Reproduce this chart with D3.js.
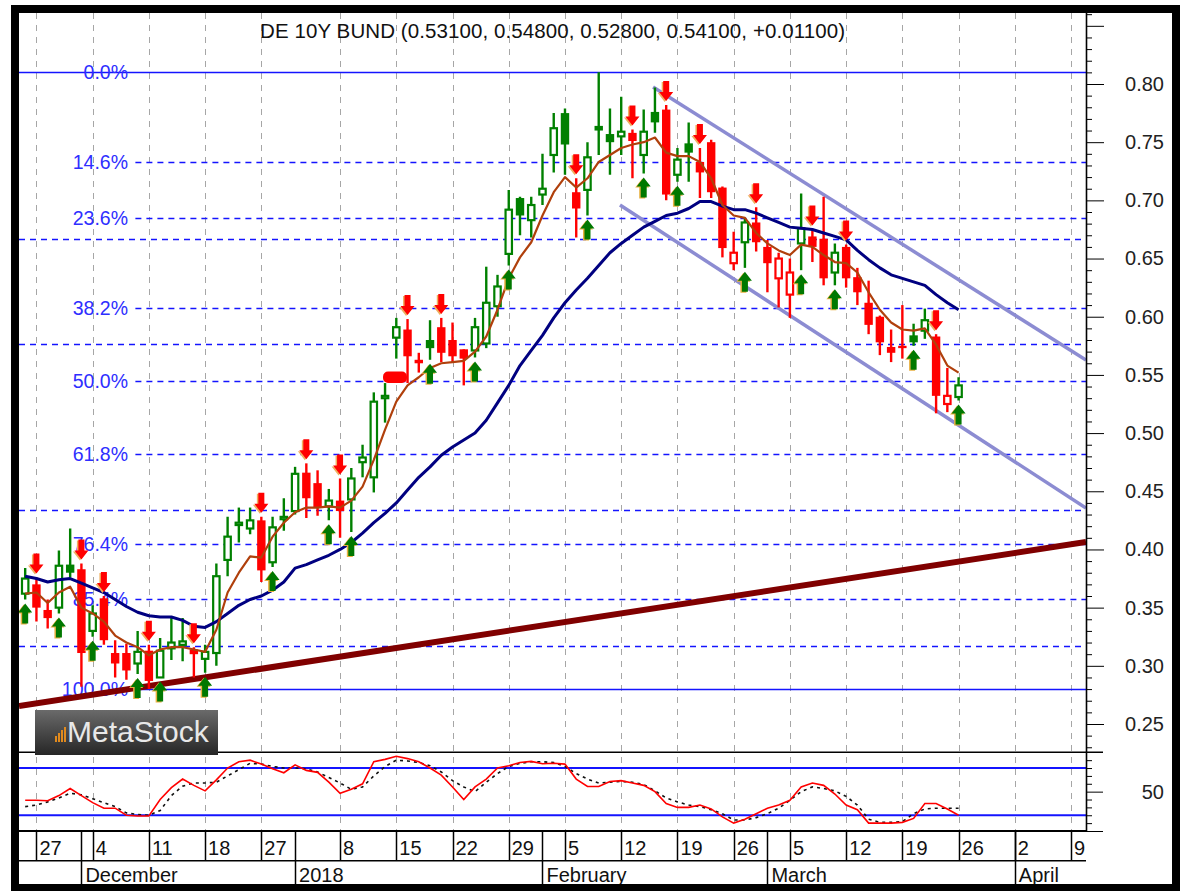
<!DOCTYPE html>
<html><head><meta charset="utf-8">
<script src="https://cdn.jsdelivr.net/npm/d3@7"></script>
<style>
html,body{margin:0;padding:0;background:#fff;}
svg{display:block;font-family:Arial,"Liberation Sans",sans-serif;}
</style></head><body>
<svg id="c" width="1182" height="891"></svg>
<script>
// ---------------- DATA ----------------
const title = "DE 10Y BUND (0.53100, 0.54800, 0.52800, 0.54100, +0.01100)";
const firstDay = "2017-11-24", lastAxisDay = "2018-04-13";
const holidays = ["2017-12-25","2017-12-26","2018-01-01"];

const open  = [.362,.370,.348,.350,.387,.383,.330,.358,.311,.311,.302,.313,.290,.315,.318,.314,.306,.311,.391,.421,.418,.425,.389,.426,.433,.466,.457,.437,.442,.443,.475,.462,.530,.582,.589,.563,.580,.591,.580,.572,.571,.577,.609,.654,.702,.683,.705,.739,.775,.707,.709,.764,.757,.755,.758,.739,.776,.778,.722,.749,.733,.750,.711,.646,.664,.681,.660,.633,.619,.663,.669,.667,.638,.660,.634,.612,.600,.574,.575,.584,.588,.583,.525,.531];
const high  = [.384,.376,.357,.399,.418,.388,.352,.360,.322,.319,.330,.318,.324,.341,.341,.316,.318,.388,.428,.436,.436,.428,.428,.444,.471,.474,.468,.452,.461,.470,.490,.535,.543,.599,.598,.569,.597,.599,.595,.572,.599,.643,.636,.709,.703,.703,.740,.775,.779,.719,.750,.810,.779,.789,.761,.778,.797,.782,.745,.767,.745,.752,.712,.673,.685,.694,.666,.655,.650,.706,.675,.703,.663,.662,.642,.631,.601,.589,.610,.594,.607,.585,.556,.548];
const low   = [.357,.338,.332,.345,.376,.282,.325,.318,.290,.288,.293,.280,.290,.305,.304,.290,.294,.300,.377,.406,.413,.372,.385,.416,.430,.427,.429,.425,.410,.415,.462,.449,.509,.564,.543,.552,.563,.561,.561,.541,.565,.573,.600,.644,.670,.668,.696,.724,.722,.668,.687,.739,.722,.739,.719,.723,.758,.700,.716,.716,.702,.702,.651,.640,.642,.656,.621,.608,.599,.640,.647,.627,.627,.625,.610,.585,.567,.561,.564,.575,.581,.517,.518,.528];
const close = [.375,.350,.341,.386,.380,.311,.345,.322,.302,.296,.312,.287,.313,.320,.321,.310,.312,.377,.411,.423,.425,.382,.419,.428,.465,.444,.436,.442,.433,.461,.479,.527,.532,.591,.566,.560,.573,.569,.566,.564,.591,.612,.626,.692,.687,.696,.710,.762,.748,.693,.737,.760,.750,.759,.751,.759,.767,.705,.735,.741,.724,.707,.659,.655,.681,.664,.646,.650,.638,.676,.660,.633,.655,.633,.621,.593,.578,.569,.573,.578,.597,.532,.532,.541];
// bar colour flags (g = green, r = red)
const barColors = "grrggrgrrrgrgggrgggggrgggrrgrgggggrrgrrrgggggggggrggggrggrggrrrrgrrrrgrrgrrrrrrggrrg";
// signal arrows (bar positions)
const downArrows = [1,5,7,11,15,21,25,28,34,37,49,54,57,60,65,70,73,81];
const upArrows   = [0,3,6,10,12,16,22,27,29,36,40,43,50,55,58,64,69,72,79,83];

const maFast = [.362,.363,.354,.363,.368,.350,.345,.338,.326,.320,.316,.309,.314,.316,.316,.314,.312,.331,.363,.380,.394,.393,.411,.423,.432,.436,.436,.437,.436,.442,.454,.477,.503,.527,.541,.548,.556,.560,.561,.562,.570,.583,.606,.633,.651,.664,.687,.707,.720,.711,.719,.733,.739,.745,.748,.750,.754,.741,.738,.738,.733,.719,.696,.687,.685,.672,.663,.657,.653,.662,.660,.653,.647,.646,.638,.621,.606,.595,.589,.588,.590,.576,.558,.552];
const maSlow = [.377,.375,.372,.374,.375,.371,.367,.363,.357,.351,.346,.343,.342,.342,.339,.334,.333,.338,.345,.352,.357,.360,.365,.372,.384,.387,.391,.395,.400,.406,.414,.423,.431,.440,.451,.462,.471,.481,.488,.494,.500,.511,.526,.541,.558,.571,.584,.599,.612,.623,.633,.644,.655,.663,.670,.677,.682,.687,.689,.693,.699,.699,.695,.692,.692,.689,.685,.681,.677,.676,.675,.672,.669,.666,.657,.649,.642,.636,.633,.630,.627,.619,.612,.606];

const stochK = [39,39,38.5,45,54,45,36,29,29,20,19,19,40,55,66,58,51,65,80,88,90,85,79,74,84,77,74.5,62,48,53,60,88,91,95,92,88,80,71,56,40,56,66,80,83,87,88.5,85.5,86,85,66,56.6,56.6,63,64,61,58,50,35,30,30,33,28,18,10,15,22,29,33,39,56,61,58,47,33,27,10,10,10,11,16,35,35,28,20];
const stochD = [31,33,37,42,48,46,41,36,31,23,21,20,26,45,57,61,61,62,70,78,86,85,82,80,80,79,75,68,61,53,56,70,82,90,89,87,83,75,64,56,50,62,73,82,86,88,88,87,82,73,66,61,62,63,62,59,51,42,37,33,31,27,22,14,14,17,22,29,39,50,56,54,51,44,33,15,11,11,12,22,28,29,29,29];
const stochBands = [80, 20];

// Fibonacci retracement
const fibHigh = 0.81, fibLow = 0.28, fibStart = 9.8;
const fibPct = [0, 14.6, 23.6, 38.2, 50, 61.8, 76.4, 85.4, 100];
const fibLabels = ["0.0%","14.6%","23.6%","38.2%","50.0%","61.8%","76.4%","85.4%","100.0%"];
const extraLevels = [0.6665, 0.5766, 0.4339, 0.3173];

// trend lines [barIndex, value]
const supportLine = [[-0.55, 0.2655], [94.33, 0.4064]];
const channelUpper = [[55.83, 0.7974], [94.33, 0.5628]];
const channelLower = [[52.89, 0.6960], [94.33, 0.4356]];
const gapMark = {from: 31.82, to: 33.95, lo: 0.543, hi: 0.553};

// axis ticks
const priceLabels = [0.25,0.30,0.35,0.40,0.45,0.50,0.55,0.60,0.65,0.70,0.75,0.80];
const dayTicks = ["2017-11-27","2017-12-04","2017-12-11","2017-12-18","2017-12-27","2018-01-08","2018-01-15","2018-01-22","2018-01-29","2018-02-05","2018-02-12","2018-02-19","2018-02-26","2018-03-05","2018-03-12","2018-03-19","2018-03-26","2018-04-02","2018-04-09"];
const monthTicks = ["2017-12-01","2018-01-02","2018-02-01","2018-03-01","2018-04-02"];
const monthLabels = ["December","2018","February","March","April"];

// ---------------- LAYOUT ----------------
const L = 19, R = 1086, T = 13, PB = 752.3, IB = 831, RB = 860.7, BB = 886;
const GREEN = "#008000", RED = "#ff0000", BLUE = "#1414ff";

const fmt = d3.timeFormat("%Y-%m-%d"), parse = d3.timeParse("%Y-%m-%d");
const tradingDays = d3.timeDay.range(parse(firstDay), parse(lastAxisDay))
  .filter(d => d.getDay() !== 0 && d.getDay() !== 6 && !holidays.includes(fmt(d))).map(fmt);
const idx = new Map(tradingDays.map((d, i) => [d, i]));

const x = d3.scaleLinear().domain([-0.55, 94.33]).range([L, R]);
const y = d3.scaleLinear().domain([0.25, 0.80]).range([724, 84]);
const yi = d3.scaleLinear().domain([0, 100]).range([IB, PB]);
const px = v => Math.round(v) + 0.5;

const svg = d3.select("#c");
const defs = svg.append("defs");
defs.append("clipPath").attr("id","cp").append("rect").attr("x",L).attr("y",T).attr("width",R-L).attr("height",PB-T);
defs.append("clipPath").attr("id","ci").append("rect").attr("x",L).attr("y",PB).attr("width",R-L).attr("height",IB-PB);
const gr = defs.append("linearGradient").attr("id","lg").attr("x1",0).attr("y1",0).attr("x2",0).attr("y2",1);
gr.append("stop").attr("offset","0%").attr("stop-color","#6a6a6a");
gr.append("stop").attr("offset","100%").attr("stop-color","#262626");

svg.append("rect").attr("width",1182).attr("height",891).attr("fill","#fff");

// vertical grid
svg.append("g").selectAll("line").data(dayTicks).join("line")
  .attr("x1", d => px(x(idx.get(d)))).attr("x2", d => px(x(idx.get(d))))
  .attr("y1", T).attr("y2", IB).attr("stroke","#a6a6a6").attr("stroke-width",1).attr("stroke-dasharray","6,6");

// ---------------- PRICE PANEL ----------------
const pp = svg.append("g").attr("clip-path","url(#cp)");
const fibVal = p => fibHigh - p / 100 * (fibHigh - fibLow);

pp.append("g").selectAll("line").data(extraLevels).join("line")
  .attr("x1", L).attr("x2", R).attr("y1", d => px(y(d))).attr("y2", d => px(y(d)))
  .attr("stroke", BLUE).attr("stroke-width", 1.6).attr("stroke-dasharray","6,5");

pp.append("g").selectAll("line").data(fibPct).join("line")
  .attr("x1", (d,i) => i === 0 ? L : x(fibStart)).attr("x2", R)
  .attr("y1", d => px(y(fibVal(d)))).attr("y2", d => px(y(fibVal(d))))
  .attr("stroke", BLUE).attr("stroke-width", 1.6)
  .attr("stroke-dasharray", (d) => (d === 0 || d === 100) ? null : "6,5");

pp.append("g").selectAll("text").data(fibPct).join("text")
  .attr("x", 128).attr("y", d => y(fibVal(d))).attr("dy","0.36em")
  .attr("text-anchor","end").attr("font-size","19.5px").attr("fill","#2e2eff")
  .text((d,i) => fibLabels[i]);

// trend lines
const tl = d3.line().x(d => x(d[0])).y(d => y(d[1]));
pp.append("path").attr("d", tl(channelUpper)).attr("stroke","#8c8cd2").attr("stroke-width",3.5).attr("fill","none");
pp.append("path").attr("d", tl(channelLower)).attr("stroke","#8c8cd2").attr("stroke-width",3.5).attr("fill","none");
pp.append("path").attr("d", tl(supportLine)).attr("stroke","#800000").attr("stroke-width",6).attr("fill","none");

// candles
const bars = open.map((o, j) => ({j, o, h: high[j], l: low[j], c: close[j], col: barColors[j] === "g" ? GREEN : RED}));
const cg = pp.append("g");
cg.selectAll("line").data(bars).join("line")
  .attr("x1", d => x(d.j)).attr("x2", d => x(d.j))
  .attr("y1", d => y(d.h)).attr("y2", d => y(d.l))
  .attr("stroke", d => d.col).attr("stroke-width", 2.4);
cg.selectAll("rect").data(bars).join("rect")
  .attr("x", d => x(d.j) - (d.c >= d.o ? 3.2 : 4.2))
  .attr("width", d => d.c >= d.o ? 6.4 : 8.4)
  .attr("y", d => y(Math.max(d.o, d.c)))
  .attr("height", d => Math.max(2, Math.abs(y(d.o) - y(d.c))))
  .attr("fill", d => d.c >= d.o ? "#fff" : d.col)
  .attr("stroke", d => d.c >= d.o ? d.col : "none")
  .attr("stroke-width", 2.2);

pp.append("rect").attr("x", x(gapMark.from)).attr("width", x(gapMark.to) - x(gapMark.from))
  .attr("y", y(gapMark.hi)).attr("height", y(gapMark.lo) - y(gapMark.hi))
  .attr("rx", 5).attr("fill", RED);

// moving averages
const ml = d3.line().x((d,i) => x(i)).y(d => y(d));
pp.append("path").attr("d", ml(maSlow)).attr("stroke","#000080").attr("stroke-width",3).attr("fill","none").attr("stroke-linejoin","round");
pp.append("path").attr("d", ml(maFast)).attr("stroke","#b0400c").attr("stroke-width",2.2).attr("fill","none").attr("stroke-linejoin","round");

// arrows
const arrowDown = "M-3,-20L3,-20L3,-9L7,-9L0,0L-7,-9L-3,-9Z";
const arrowUp = "M-3,20L3,20L3,9L7,9L0,0L-7,9L-3,9Z";
const ag = pp.append("g");
ag.selectAll("path.ds").data(downArrows).join("path").attr("class","ds")
  .attr("d", arrowDown).attr("fill","#f0b060")
  .attr("transform", j => `translate(${x(j) - 1.5},${y(high[j]) - 3})`);
ag.selectAll("path.d").data(downArrows).join("path").attr("class","d")
  .attr("d", arrowDown).attr("fill", RED)
  .attr("transform", j => `translate(${x(j)},${y(high[j]) - 4})`);
ag.selectAll("path.us").data(upArrows).join("path").attr("class","us")
  .attr("d", arrowUp).attr("fill","#e8b040")
  .attr("transform", j => `translate(${x(j) - 1.5},${y(low[j]) + 5})`);
ag.selectAll("path.u").data(upArrows).join("path").attr("class","u")
  .attr("d", arrowUp).attr("fill", "#007800")
  .attr("transform", j => `translate(${x(j)},${y(low[j]) + 4})`);

// title
svg.append("text").attr("x", 260).attr("y", 38).attr("font-size","20.5px").attr("fill","#111")
  .attr("textLength", 585).attr("lengthAdjust","spacing").text(title);

// ---------------- INDICATOR PANEL ----------------
const ip = svg.append("g").attr("clip-path","url(#ci)");
ip.selectAll("line").data(stochBands).join("line")
  .attr("x1", L).attr("x2", R).attr("y1", d => yi(d)).attr("y2", d => yi(d))
  .attr("stroke", BLUE).attr("stroke-width", 2);
const il = d3.line().x((d,i) => x(i)).y(d => yi(d));
ip.append("path").attr("d", il(stochD)).attr("stroke","#111").attr("stroke-width",1.6).attr("stroke-dasharray","3,4").attr("fill","none");
ip.append("path").attr("d", il(stochK)).attr("stroke", RED).attr("stroke-width",1.6).attr("fill","none");

// separator
svg.append("line").attr("x1", L).attr("x2", 1103).attr("y1", PB).attr("y2", PB).attr("stroke","#000").attr("stroke-width",1.6);

// logo
const logo = svg.append("g");
logo.append("rect").attr("x",35).attr("y",710).attr("width",183).attr("height",45).attr("fill","url(#lg)");
[[55,6],[58,9],[61,12],[64,15]].forEach(b => logo.append("rect").attr("x",b[0]).attr("y",742-b[1]).attr("width",2).attr("height",b[1]).attr("fill","#e08a1e"));
logo.append("text").attr("x",67).attr("y",742).attr("font-size","30px").attr("fill","#e8e8e8").text("MetaStock");

// ---------------- RIGHT AXES ----------------
const minorP = d3.range(23, 87).map(k => k / 100).filter(v => y(v) >= T && y(v) <= PB - 2);
svg.append("g").attr("transform", `translate(${R},0)`)
  .call(d3.axisRight(y).tickValues(minorP.filter(v => Math.round(v * 100) % 5 !== 0)).tickSize(6).tickFormat(""))
  .call(g => g.select(".domain").remove());
const ax = svg.append("g").attr("transform", `translate(${R},0)`)
  .call(d3.axisRight(y).tickValues(minorP.filter(v => Math.round(v * 100) % 5 === 0)).tickSize(18).tickFormat(d3.format(".2f")))
  .call(g => g.select(".domain").remove());
ax.selectAll("text").filter(d => !priceLabels.some(p => Math.abs(p - d) < 1e-6)).remove();
ax.selectAll("text").attr("x", 78).attr("text-anchor","end").attr("font-size","20px").attr("fill","#222").attr("font-family","Arial, Liberation Sans, sans-serif");
ax.selectAll("line").attr("stroke","#000");

svg.append("g").attr("transform", `translate(${R},0)`)
  .call(d3.axisRight(yi).tickValues([10,20,30,40,60,70,80,90]).tickSize(6).tickFormat(""))
  .call(g => g.select(".domain").remove());
const ai2 = svg.append("g").attr("transform", `translate(${R},0)`)
  .call(d3.axisRight(yi).tickValues([0,50]).tickSize(17).tickFormat(d => d === 50 ? "50" : ""))
  .call(g => g.select(".domain").remove());
ai2.selectAll("text").attr("x", 78).attr("text-anchor","end").attr("font-size","20px").attr("fill","#222").attr("font-family","Arial, Liberation Sans, sans-serif");

svg.append("line").attr("x1", R + 0.5).attr("x2", R + 0.5).attr("y1", T).attr("y2", IB).attr("stroke","#000").attr("stroke-width",1.6);

// ---------------- DATE AXIS ----------------
const da = svg.append("g");
da.append("line").attr("x1", L).attr("x2", R).attr("y1", IB).attr("y2", IB).attr("stroke","#000").attr("stroke-width",2);
da.append("line").attr("x1", L).attr("x2", R).attr("y1", RB).attr("y2", RB).attr("stroke","#000").attr("stroke-width",1.6);
da.selectAll("line.dt").data(dayTicks).join("line").attr("class","dt")
  .attr("x1", d => px(x(idx.get(d)))).attr("x2", d => px(x(idx.get(d))))
  .attr("y1", IB).attr("y2", RB).attr("stroke","#000").attr("stroke-width",1.5);
da.selectAll("line.mt").data(monthTicks).join("line").attr("class","mt")
  .attr("x1", d => px(x(idx.get(d)))).attr("x2", d => px(x(idx.get(d))))
  .attr("y1", IB).attr("y2", BB).attr("stroke","#000").attr("stroke-width",1.5);
da.selectAll("text.dl").data(dayTicks).join("text").attr("class","dl")
  .attr("x", d => x(idx.get(d)) + 3).attr("y", 855).attr("font-size","20px").attr("fill","#111")
  .text(d => +d.slice(8));
da.selectAll("text.ml").data(monthTicks).join("text").attr("class","ml")
  .attr("x", d => x(idx.get(d)) + 4).attr("y", 882).attr("font-size","20px").attr("fill","#111")
  .text((d,i) => monthLabels[i]);

// frame
svg.append("rect").attr("x",15).attr("y",9).attr("width",1161).attr("height",879)
  .attr("fill","none").attr("stroke","#000").attr("stroke-width",8);
</script>
</body></html>
